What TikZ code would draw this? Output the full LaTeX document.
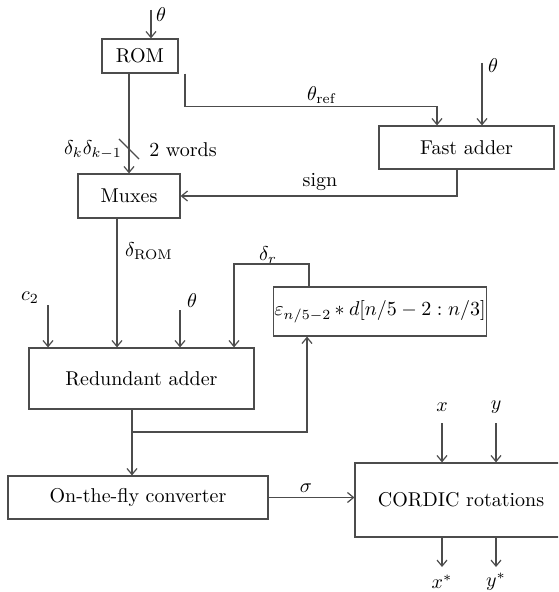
\documentclass[tikz,border=0pt]{standalone}
\usepackage{amsmath,amssymb}
\usepackage{tikz}
\usetikzlibrary{arrows.meta,positioning,calc}
\definecolor{wire}{gray}{0.3}

\begin{document}
\begin{tikzpicture}[x=0.5pt,y=-0.5pt,
  blk/.style={draw=wire,line width=0.6pt,fill=white,inner sep=1pt},
  sig/.style={draw=wire,line width=0.6pt,-{Straight Barb[width=5pt,length=3pt]}},
  wr/.style={draw=wire,line width=0.6pt}]
\useasboundingbox (0,0) rectangle (558,592);
\clip (0,0) rectangle (558,592);
% blocks
\node[blk,minimum width=38pt,minimum height=17pt] (rom) at (140,56) {ROM};
\node[blk,minimum width=87.5pt,minimum height=21.5pt] (fast) at (466.5,147.5) {Fast adder};
\node[blk,minimum width=51pt,minimum height=22pt] (mux) at (129,196) {Muxes};
\node[blk,inner xsep=0.3pt,minimum width=102pt,minimum height=24.5pt] (eps) at (380,311.5) {$\varepsilon_{n/5-2}\mskip-1mu\ast d[n/5-2:n/3]$};
\node[blk,minimum width=112.5pt,minimum height=30.5pt] (radd) at (141.5,378.5) {Redundant adder};
\node[blk,minimum width=130pt,minimum height=21.5pt] (otf) at (138,497.5) {On-the-fly converter};
\node[blk,minimum width=106pt,minimum height=37pt] (cordic) at (461,500) {CORDIC rotations};
% free ends
\coordinate (thR) at (151,10);
\coordinate (thF) at (482,63);
\coordinate (mxo) at (117,218);
\coordinate (cin) at (48,305);
\coordinate (thA) at (180,310);
\coordinate (rtap) at (234,264);
\coordinate (fork) at (132,432);
\coordinate (xin) at (442,423);
\coordinate (yin) at (496,423);
\coordinate (xout) at (442,567);
\coordinate (yout) at (496,567);
% top part
\draw[sig] (thR) -- (thR |- rom.north);
\node (thRl) at (161,15) {$\theta$};
\draw[sig] (mux.north |- rom.south) -- (mux.north);
\draw[wr] (119,139) -- (139,159);
\node (dkl) at (93,150) {$\delta_k\delta_{k-1}$};
\node (wdl) at (183,150) {2 words};
\draw[sig] ($(rom.south)+(45,0)$) -- ++(0,33) -| ($(fast.north)+(-29.5,0)$);
\node (refl) at (322,95) {$\theta_{\mathrm{ref}}$};
\draw[sig] (thF) -- (thF |- fast.north);
\node (thFl) at (493,66) {$\theta$};
\draw[sig] ($(fast.south)+(-9.5,0)$) |- (mux.east);
\node (sgl) at (320,182) {sign};
% adder inputs
\draw[sig] (mxo) -- (mxo |- radd.north);
\node (droml) at (149,251) {$\delta_{\mathrm{ROM}}$};
\draw[sig] (cin) -- (cin |- radd.north);
\node (cl) at (30,298) {$c_2$};
\draw[sig] (thA) -- (thA |- radd.north);
\node (thAl) at (192,301) {$\theta$};
\draw[sig] ($(eps.north)+(-71,0)$) |- (rtap) -- (rtap |- radd.north);
\node (drl) at (268,255) {$\delta_r$};
% adder output
\draw[wr] ($(radd.south)+(-9.5,0)$) -- (fork);
\draw[sig] (fork) -- (fork |- otf.north);
\draw[sig] (fork) -| ($(eps.south)+(-73,0)$);
% cordic
\draw[sig] (otf.east) -- (otf.east -| cordic.west);
\node (sgml) at (306,488) {$\sigma$};
\draw[sig] (xin) -- (xin |- cordic.north);
\draw[sig] (yin) -- (yin |- cordic.north);
\node (xl) at (442,407) {$x$};
\node (yl) at (496,407) {$y$};
\draw[sig] (xout |- cordic.south) -- (xout);
\draw[sig] (yout |- cordic.south) -- (yout);
\node (xsl) at (442,582) {$x^{*}$};
\node (ysl) at (496,582) {$y^{*}$};
\end{tikzpicture}
\end{document}
